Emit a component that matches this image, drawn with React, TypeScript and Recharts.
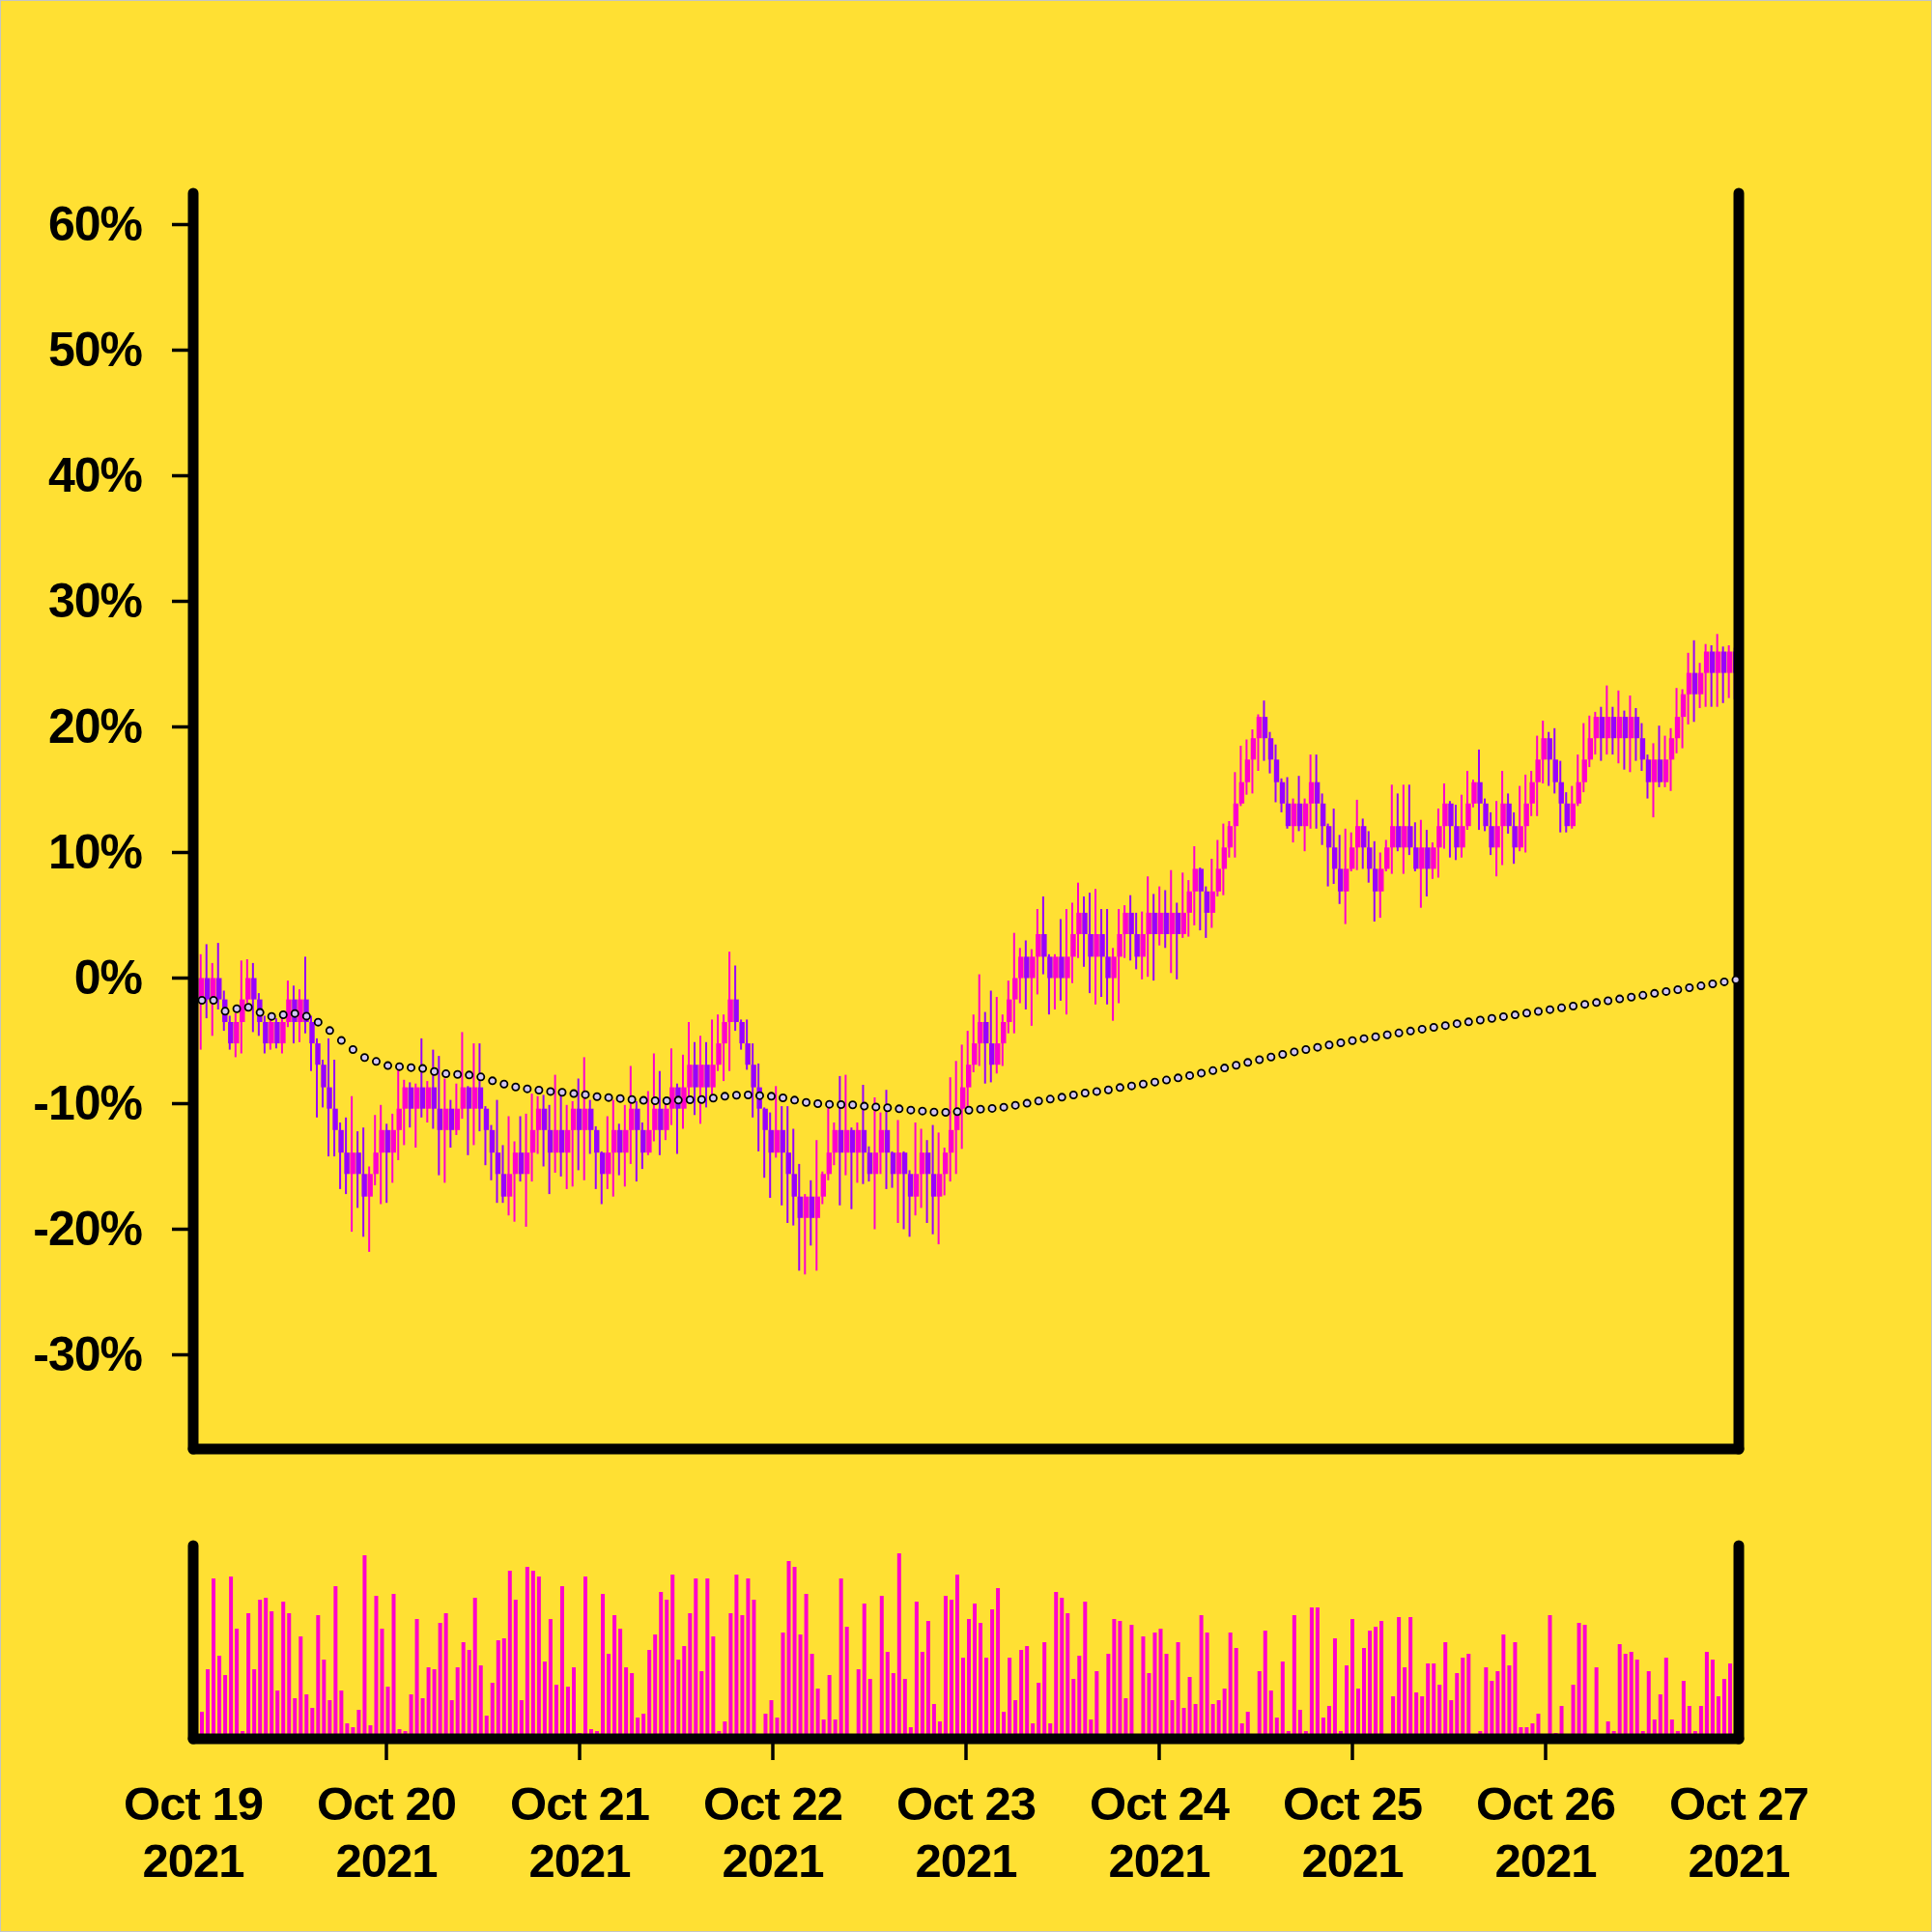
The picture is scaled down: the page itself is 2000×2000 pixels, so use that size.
import React from 'react'
import { ComposedChart, Bar, Line, XAxis, YAxis } from 'recharts'

const BG = '#ffe033'
const UP = '#ff00cc'
const DOWN = '#9900ff'
const FONT = '"Liberation Sans", Arial, Helvetica, sans-serif'

const dayLabels = ['Oct 19', 'Oct 20', 'Oct 21', 'Oct 22', 'Oct 23', 'Oct 24', 'Oct 25', 'Oct 26', 'Oct 27']
const yearLabel = '2021'
const dayTicks = [0, 24, 48, 72, 96, 120, 144, 168, 192]
const pctTicks = [-30, -20, -10, 0, 10, 20, 30, 40, 50, 60]

// % change, one value per candle, day by day
const firstOpen = 0
const closePct = [
  -1.7, 0, -1.7, 0, -1.7, -3.5, -5.2, -3.5, -1.7, 0, -1.7, -3.5, -5.2, -3.5, -5.2, -3.5, -1.7, -3.5, -1.7, -3.5, -5.2, -6.9, -8.7, -10.4, -12.1, -13.9, -15.6, -13.9, -15.6, -17.4, -15.6, -13.9, -12.1,
  -13.9, -12.1, -10.4, -8.7, -10.4, -8.7, -10.4, -8.7, -10.4, -12.1, -10.4, -12.1, -10.4, -8.7, -10.4, -8.7, -10.4, -12.1, -13.9, -15.6, -17.4, -15.6, -13.9, -15.6, -13.9, -12.1, -10.4, -12.1, -13.9, -12.1, -13.9, -12.1, -10.4,
  -12.1, -10.4, -12.1, -13.9, -15.6, -13.9, -12.1, -13.9, -12.1, -10.4, -12.1, -13.9, -12.1, -10.4, -12.1, -10.4, -8.7, -10.4, -8.7, -6.9, -8.7, -6.9, -8.7, -6.9, -5.2, -3.5, -1.7, -3.5, -5.2, -6.9, -8.7, -10.4, -12.1,
  -13.9, -12.1, -13.9, -15.6, -17.4, -19.1, -17.4, -19.1, -17.4, -15.6, -13.9, -12.1, -13.9, -12.1, -13.9, -12.1, -13.9, -15.6, -13.9, -12.1, -13.9, -15.6, -13.9, -15.6, -17.4, -15.6, -13.9, -15.6, -17.4, -15.6, -13.9, -12.1, -10.4,
  -8.7, -6.9, -5.2, -3.5, -5.2, -6.9, -5.2, -3.5, -1.7, 0, 1.7, 0, 1.7, 3.5, 1.7, 0, 1.7, 0, 1.7, 3.5, 5.2, 3.5, 1.7, 3.5, 1.7, 0, 1.7, 3.5, 5.2, 3.5, 1.7, 3.5, 5.2,
  3.5, 5.2, 3.5, 5.2, 3.5, 5.2, 6.9, 8.7, 6.9, 5.2, 6.9, 8.7, 10.4, 12.1, 13.9, 15.6, 17.4, 19.1, 20.8, 19.1, 17.4, 15.6, 13.9, 12.1, 13.9, 12.1, 13.9, 15.6, 13.9, 12.1, 10.4, 8.7, 6.9, 8.7, 10.4,
  12.1, 10.4, 8.7, 6.9, 8.7, 10.4, 12.1, 10.4, 12.1, 10.4, 8.7, 10.4, 8.7, 10.4, 12.1, 13.9, 12.1, 10.4, 12.1, 13.9, 15.6, 13.9, 12.1, 10.4, 12.1, 13.9, 12.1, 10.4, 12.1, 13.9, 15.6, 17.4, 19.1,
  17.4, 15.6, 13.9, 12.1, 13.9, 15.6, 17.4, 19.1, 20.8, 19.1, 20.8, 19.1, 20.8, 19.1, 20.8, 19.1, 17.4, 15.6, 17.4, 15.6, 17.4, 19.1, 20.8, 22.6, 24.3, 22.6, 24.3, 26.0, 24.3, 26.0, 24.3, 26.0, 24.3,
]

const highPct = [
  1.0, 1.9, 2.7, 1.2, 2.8, -1.0, -3.0, -2.8, 1.4, 1.5, 1.2, -1.2, -3.0, -3.0, -3.2, -2.9, -0.2, -0.6, -0.9, 1.7, -3.0, -4.8, -6.5, -4.8, -6.5, -11.5, -11.1, -9.4, -12.2, -11.9, -15.0, -10.9, -10.1,
  -11.6, -10.8, -7.2, -8.1, -8.3, -8.4, -4.8, -8.2, -5.7, -6.2, -8.0, -9.7, -8.4, -4.3, -8.6, -5.2, -5.2, -10.2, -11.7, -9.7, -13.3, -11.0, -13.0, -11.0, -10.8, -9.2, -9.4, -9.3, -10.1, -7.7, -9.2, -10.1, -9.8,
  -8.0, -6.3, -9.7, -11.8, -13.8, -11.0, -9.7, -11.6, -10.1, -7.0, -9.8, -11.5, -9.0, -6.0, -7.4, -9.7, -5.6, -8.4, -6.1, -3.5, -5.1, -4.6, -5.1, -3.3, -2.9, -2.9, 2.1, 1.0, -3.3, -3.3, -5.2, -6.8, -10.3,
  -10.7, -8.6, -10.2, -10.2, -12.0, -14.8, -17.2, -16.1, -12.9, -15.4, -10.2, -11.5, -7.8, -7.7, -11.9, -11.5, -8.5, -13.4, -9.5, -10.7, -8.9, -13.8, -11.3, -13.8, -15.3, -11.5, -12.0, -12.9, -11.7, -12.3, -13.5, -7.9, -6.6,
  -5.3, -4.2, -2.9, 0.3, -2.7, -1.0, -1.5, -2.9, -0.2, 3.6, 2.4, 3.0, 2.3, 5.5, 6.5, 1.9, 1.9, 4.7, 5.5, 6.0, 7.6, 6.5, 6.8, 7.1, 5.5, 5.5, 2.4, 5.5, 5.8, 6.6, 5.2, 5.3, 8.1,
  6.7, 7.3, 7.0, 8.6, 6.0, 8.4, 7.8, 10.5, 8.8, 7.3, 9.5, 11.0, 12.3, 12.5, 16.4, 18.5, 19.0, 19.8, 21.0, 22.1, 19.6, 18.6, 15.9, 16.0, 14.3, 16.1, 14.3, 17.8, 17.8, 14.7, 12.3, 13.5, 11.4, 11.9, 11.6,
  14.2, 12.7, 11.7, 10.9, 10.0, 11.0, 15.4, 14.7, 15.4, 15.4, 12.4, 12.6, 11.8, 10.8, 13.5, 15.5, 14.1, 13.8, 14.6, 16.5, 15.8, 18.2, 14.3, 13.2, 14.1, 16.5, 14.7, 13.2, 15.3, 16.2, 16.5, 19.3, 20.5,
  19.6, 19.9, 17.3, 14.8, 15.3, 17.8, 20.3, 20.9, 21.2, 21.6, 23.3, 21.6, 22.9, 21.3, 22.5, 21.5, 20.3, 17.8, 18.7, 20.1, 19.3, 19.9, 23.1, 23.0, 25.9, 26.9, 25.1, 26.6, 26.5, 27.4, 26.4, 26.5, 26.3,
]

const lowPct = [
  -3.0, -5.7, -3.2, -4.6, -2.5, -4.2, -5.7, -6.3, -6.0, -2.0, -4.3, -4.6, -6.0, -5.7, -5.6, -6.0, -3.9, -5.2, -5.1, -4.4, -7.4, -11.1, -10.3, -14.2, -14.2, -16.8, -17.2, -20.2, -18.3, -20.6, -21.8, -16.5, -18.0,
  -17.9, -16.3, -14.5, -13.3, -11.9, -13.5, -11.1, -11.5, -12.0, -15.7, -16.3, -13.5, -12.5, -11.2, -14.1, -13.3, -12.2, -14.9, -16.1, -17.9, -17.9, -18.9, -19.4, -16.2, -19.8, -16.2, -14.0, -15.0, -17.2, -15.5, -15.8, -16.8, -16.6,
  -15.3, -16.1, -14.0, -16.8, -18.0, -16.8, -17.4, -15.7, -16.6, -14.8, -16.2, -15.2, -14.1, -13.0, -14.1, -12.9, -11.7, -14.0, -12.0, -9.9, -10.9, -11.6, -10.3, -9.4, -7.4, -8.2, -7.4, -4.2, -5.7, -7.3, -11.1, -13.8, -15.9,
  -17.5, -14.3, -18.1, -19.5, -19.7, -23.3, -23.6, -21.3, -23.3, -18.0, -16.1, -14.9, -18.1, -15.7, -18.4, -16.3, -16.4, -16.2, -20.0, -15.6, -16.8, -16.7, -19.5, -20.0, -20.6, -18.9, -18.3, -19.5, -20.4, -21.2, -17.3, -16.2, -15.6,
  -13.6, -10.4, -7.5, -7.0, -8.4, -8.3, -7.6, -7.0, -4.4, -4.4, -2.0, -2.5, -3.8, -1.3, 0.3, -2.9, -2.5, -1.8, -2.9, -0.4, 1.6, 0.9, -1.2, -2.1, -1.5, -2.1, -3.4, -2.0, 1.6, 1.4, 0.7, -0.1, 0.1,
  -0.2, 2.6, 2.4, 0.4, -0.1, 3.2, 3.3, 4.2, 3.8, 3.2, 4.0, 6.5, 6.6, 9.6, 9.6, 13.7, 14.6, 14.7, 16.5, 17.3, 16.3, 14.0, 13.2, 11.9, 10.8, 11.7, 10.1, 11.9, 11.9, 10.6, 7.3, 7.5, 5.9, 4.3, 8.5,
  8.6, 8.7, 7.6, 4.5, 4.8, 8.5, 8.3, 10.1, 8.3, 9.8, 8.5, 5.6, 6.5, 7.9, 8.0, 10.3, 9.6, 9.4, 9.6, 11.8, 13.6, 11.8, 11.7, 9.8, 8.1, 9.0, 11.5, 9.1, 10.1, 10.0, 12.9, 12.9, 15.5,
  15.3, 14.7, 11.6, 11.6, 11.9, 13.7, 14.8, 16.8, 17.8, 17.3, 17.8, 17.8, 17.1, 16.6, 16.4, 17.3, 16.5, 14.3, 12.8, 15.2, 15.2, 14.9, 17.9, 18.3, 20.2, 20.4, 21.5, 21.6, 21.6, 21.6, 21.9, 22.3, 22.2,
]

// relative volume, one bar per candle
const volume = [
  12,
  14, 36, 83, 43, 33, 84, 57, 4, 65, 36, 72, 73, 66, 25, 71, 65, 21, 53, 23, 16,
  64, 41, 20, 79, 25, 8, 6, 15, 95, 7, 74, 57, 27, 75, 5, 4, 23, 62, 21, 37,
  36, 60, 65, 20, 37, 50, 46, 73, 38, 12, 29, 51, 52, 87, 72, 20, 89, 87, 84, 40,
  62, 28, 79, 27, 37, 3, 84, 5, 4, 75, 44, 64, 57, 37, 34, 11, 13, 46, 54, 76,
  72, 85, 41, 48, 65, 83, 35, 83, 53, 4, 9, 65, 85, 64, 83, 72, 0, 13, 20, 11,
  55, 92, 89, 54, 75, 44, 26, 10, 33, 10, 83, 58, 0, 36, 70, 31, 0, 74, 45, 34,
  96, 31, 6, 71, 45, 61, 18, 9, 74, 72, 85, 42, 62,
  70, 60, 42, 67, 78, 14, 42, 20, 46, 48, 8, 29, 50, 8, 76, 73, 65, 31, 43, 71,
  10, 35, 0, 44, 62, 61, 21, 59, 0, 53, 34, 55, 57, 44, 20, 50, 16, 32, 18, 64,
  55, 18, 20, 26, 55, 47, 8, 14, 1, 35, 56, 25, 11, 40, 4, 64, 15, 4, 68, 68,
  11, 17, 52, 4, 38, 62, 26, 47, 56, 58, 61, 0, 22, 63, 37, 63, 24, 22, 39, 39,
  28, 50, 20, 34, 42, 44, 0, 4, 37, 30, 35, 54, 38, 50, 6, 6, 8, 13, 0, 64,
  3, 17, 0, 28, 60, 59, 0, 37, 0, 9, 4, 49, 44, 45, 41, 4, 35, 10, 23, 42,
  10, 4, 30, 17, 4, 17, 45, 41, 22, 31, 39,
  30,
]

// moving average, one dot every second candle
const movingAvg = [
  -1.77, -1.77, -2.64, -2.44, -2.33, -2.74, -3.05, -2.92, -2.82, -3.03, -3.51, -4.18, -4.97, -5.69, -6.33, -6.64, -6.97,
  -7.05, -7.13, -7.2, -7.44, -7.62, -7.67, -7.72, -7.87, -8.18, -8.44, -8.67, -8.82, -8.92, -9.03, -9.1, -9.2,
  -9.28, -9.44, -9.51, -9.59, -9.67, -9.74, -9.77, -9.77, -9.72, -9.69, -9.67, -9.56, -9.41, -9.33, -9.31, -9.36, -9.41,
  -9.54, -9.72, -9.9, -10.0, -10.05, -10.08, -10.1, -10.2, -10.26, -10.33, -10.41, -10.51, -10.59, -10.67, -10.69, -10.64, -10.52,
  -10.44, -10.38, -10.28, -10.13, -9.97, -9.79, -9.64, -9.49, -9.31, -9.15, -9.03, -8.9, -8.72, -8.59, -8.44, -8.28,
  -8.12, -7.95, -7.76, -7.57, -7.37, -7.16, -6.94, -6.72, -6.5, -6.29, -6.08, -5.88, -5.69, -5.51, -5.33, -5.15, -4.98,
  -4.82, -4.67, -4.52, -4.37, -4.22, -4.07, -3.92, -3.78, -3.63, -3.49, -3.35, -3.21, -3.07, -2.93, -2.79, -2.65,
  -2.51, -2.37, -2.23, -2.09, -1.95, -1.81, -1.66, -1.52, -1.37, -1.22, -1.07, -0.92, -0.77, -0.62, -0.46, -0.3, -0.14,
]

const HOURS = 192
const stepHours = HOURS / closePct.length

const rows = closePct.map((c, i) => ({
  t: (i + 0.5) * stepHours,
  open: i === 0 ? firstOpen : closePct[i - 1],
  close: c,
  high: highPct[i],
  low: lowPct[i],
  volume: volume[i],
  ma: i % 2 === 1 ? movingAvg[(i - 1) / 2] : null,
}))

const frame = { stroke: '#000', strokeWidth: 11, strokeLinecap: 'round' as const }
const tickMark = { stroke: '#000', strokeWidth: 3.5 }
const labelFont = { fontFamily: FONT, fontWeight: 700, letterSpacing: -1, fill: '#000' }

const Candle = (props: any) => {
  const { x, y, width, height, payload } = props
  if (x == null || y == null) return null
  const top = Math.min(y, y + height)
  const h = Math.abs(height)
  const span = payload.high - payload.low
  const k = span > 0 ? h / span : 0
  const bodyTop = top + (payload.high - Math.max(payload.open, payload.close)) * k
  const bodyBottom = top + (payload.high - Math.min(payload.open, payload.close)) * k
  const color = payload.close >= payload.open ? UP : DOWN
  const cx = x + width / 2
  return (
    <g>
      <line x1={cx - 1} x2={cx - 1} y1={top} y2={top + h} stroke={color} strokeWidth={2} />
      <rect x={x} y={bodyTop} width={width} height={Math.max(bodyBottom - bodyTop, 1)} fill={color} />
    </g>
  )
}

const PctTick = ({ x, y, payload }: any) => (
  <text x={x} y={y + 16} textAnchor="end" fontSize={50} {...labelFont}>{`${payload.value}%`}</text>
)

// tick marks only between the two frame edges
const DateTick = ({ x, y, payload }: any) => {
  const idx = Math.round(payload.value / 24)
  const inner = idx > 0 && idx < dayLabels.length - 1
  return (
    <g>
      {inner && <line x1={x} x2={x} y1={y - 22} y2={y} stroke="#000" strokeWidth={3.5} />}
      <text textAnchor="middle" fontSize={49} {...labelFont}>
        <tspan x={x} y={y + 62}>{dayLabels[idx]}</tspan>
        <tspan x={x} y={y + 121}>{yearLabel}</tspan>
      </text>
    </g>
  )
}

const App: React.FC = () => (
  <div
    style={{
      position: 'absolute',
      left: 0,
      top: 0,
      width: 2000,
      height: 2000,
      background: BG,
      border: '1px solid #c4c4c4',
      boxSizing: 'border-box',
      overflow: 'hidden',
    }}
  >
    <div style={{ position: 'absolute', left: -1, top: -1 }}>
      <ComposedChart width={2000} height={1520} data={rows} margin={{ top: 200, right: 0, bottom: 0, left: 0 }}>
        <XAxis
          dataKey="t"
          type="number"
          domain={[0, HOURS]}
          ticks={dayTicks}
          tick={false}
          tickLine={false}
          axisLine={frame}
          height={20}
        />
        <YAxis
          yAxisId="pct"
          type="number"
          domain={[-37.5, 62.5]}
          ticks={pctTicks}
          interval={0}
          width={200}
          axisLine={frame}
          tickLine={tickMark}
          tickSize={22}
          tickMargin={31}
          tick={<PctTick />}
        />
        <YAxis yAxisId="edge" orientation="right" type="number" domain={[0, 1]} width={200} tick={false} tickLine={false} axisLine={frame} />
        <Bar
          yAxisId="pct"
          dataKey={(d: any) => [d.low, d.high]}
          barSize={7}
          shape={<Candle />}
          isAnimationActive={false}
        />
        <Line
          yAxisId="pct"
          dataKey="ma"
          stroke="none"
          dot={{ r: 3.6, fill: '#d2c6f4', stroke: '#000', strokeWidth: 1.8 }}
          activeDot={false}
          isAnimationActive={false}
        />
      </ComposedChart>
    </div>
    <div style={{ position: 'absolute', left: -1, top: 1559 }}>
      <ComposedChart width={2000} height={440} data={rows} margin={{ top: 40, right: 0, bottom: 0, left: 0 }}>
        <XAxis
          dataKey="t"
          type="number"
          domain={[0, HOURS]}
          ticks={dayTicks}
          interval={0}
          axisLine={frame}
          tickLine={{ stroke: 'none' }}
          tickSize={22}
          tickMargin={0}
          tick={<DateTick />}
          height={200}
        />
        <YAxis yAxisId="vol" type="number" domain={[0, 100]} width={200} tick={false} tickLine={false} axisLine={frame} />
        <YAxis yAxisId="edge" orientation="right" type="number" domain={[0, 1]} width={200} tick={false} tickLine={false} axisLine={frame} />
        <Bar yAxisId="vol" dataKey="volume" barSize={4} fill={UP} isAnimationActive={false} />
      </ComposedChart>
    </div>
  </div>
)

export default App
